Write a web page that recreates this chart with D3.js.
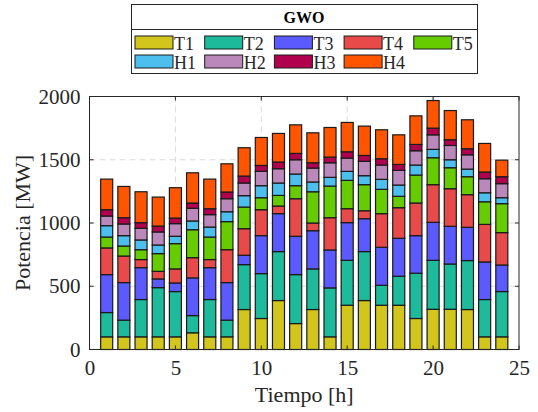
<!DOCTYPE html>
<html>
<head>
<meta charset="utf-8">
<script src="https://cdn.jsdelivr.net/npm/d3@7"></script>
<style>
    body { margin:0; background:#fff; }
    svg { display:block; font-family:'Liberation Serif','Times New Roman',serif; }
</style>
</head>
<body>
<svg id="chart" width="538" height="412"></svg>
<script>
(function() {
    'use strict';

    // hours 1..24
    var hours = d3.range(1, 25);

    var series = ['T1','T2','T3','T4','T5','H1','H2','H3','H4'];
    var colors = ['#d2c61c','#1dbb9b','#5a5aff','#e84a4a','#66cc00','#4dbfee','#bb88bb','#b0004e','#ff5500'];

    var T1 = [100,100,100,100,100,132,100,100,316,245,387,205,316,100,350,387,350,350,245,318,318,316,100,100];
    var T2 = [192,132,295,389,358,136,295,132,355,355,387,387,321,387,355,387,158,229,358,387,358,387,295,358];
    var T3 = [300,297,252,69,68,298,252,297,74,300,300,303,302,300,298,260,300,300,297,300,298,263,297,210];
    var T4 = [211,210,64,60,111,160,64,260,210,205,60,297,61,255,110,63,266,242,258,298,297,258,297,256];
    var T5 = [86,79,78,140,200,221,178,222,171,95,84,103,247,250,224,206,192,90,221,213,166,142,179,229];
    var H1 = [90,82,77,68,58,69,79,78,90,95,98,92,77,69,71,71,79,89,79,66,63,60,71,47];
    var H2 = [76,92,92,103,100,100,98,103,100,113,113,113,110,115,105,113,113,116,113,115,113,113,111,111];
    var H3 = [50,50,45,47,44,42,47,53,55,47,53,50,42,45,50,47,50,47,50,53,45,48,53,55];
    var H4 = [242,247,244,229,240,239,234,223,224,221,226,226,237,234,232,232,229,234,226,218,231,229,226,131];

    var yTicks = [0,500,1000,1500,2000];
    var xTicks = [0,5,10,15,20,25];

    var values = [T1,T2,T3,T4,T5,H1,H2,H3,H4];

    var rows = hours.map(function(h, i) {
        var r = { hour:h };
        series.forEach(function(s, k) { r[s] = values[k][i]; });
        return r;
    });

    var stacked = d3.stack().keys(series)(rows);

    var svg = d3.select('#chart');

    var L = 89.5, R = 519, T = 96.5, B = 349.5;

    var x = d3.scaleLinear().domain([0, 25]).range([L, R]);
    var y = d3.scaleLinear().domain([0, 2000]).range([B, T]);
    var bw = 0.7 * (x(1) - x(0));

    /**************************************************************
        grid
     **************************************************************/
    var grid = svg.append('g').attr('class','grid');

    grid.selectAll('.gy')
        .data(yTicks.slice(1, -1)).enter()
            .append('line')
                .attr('x1', L).attr('x2', R)
                .attr('y1', function(d){ return y(d); })
                .attr('y2', function(d){ return y(d); })
                .style('stroke','#dcdcdc')
                .style('stroke-dasharray','6,4')
                .style('stroke-width', 1);

    grid.selectAll('.gx')
        .data(xTicks.slice(1, -1)).enter()
            .append('line')
                .attr('y1', T).attr('y2', B)
                .attr('x1', function(d){ return x(d); })
                .attr('x2', function(d){ return x(d); })
                .style('stroke','#dcdcdc')
                .style('stroke-dasharray','6,4')
                .style('stroke-width', 1);

    /**************************************************************
        bars
     **************************************************************/
    svg.selectAll('.layer')
        .data(stacked).enter()
            .append('g')
                .attr('class','layer')
                .style('fill', function(d, i){ return colors[i]; })
            .selectAll('rect')
                .data(function(d){ return d; }).enter()
                    .append('rect')
                        .attr('x', function(d){ return x(d.data.hour) - bw/2; })
                        .attr('width', bw)
                        .attr('y', function(d){ return y(d[1]); })
                        .attr('height', function(d){ return y(d[0]) - y(d[1]); })
                        .style('stroke','#1a1a1a')
                        .style('stroke-width', 1.2);

    /**************************************************************
        axes box
     **************************************************************/
    var axis = svg.append('g').attr('class','axis');

    axis.append('rect')
        .attr('x', L).attr('y', T)
        .attr('width', R - L).attr('height', B - T)
        .style('fill','none')
        .style('stroke','#262626')
        .style('stroke-width', 1);

    var yAxis = d3.axisLeft(y).tickValues(yTicks).tickFormat(d3.format('d')).tickSize(0).tickPadding(9);
    var xAxis = d3.axisBottom(x).tickValues(xTicks).tickFormat(d3.format('d')).tickSize(0).tickPadding(11);

    axis.append('g')
        .attr('transform','translate('+ L +',0)')
        .call(yAxis)
        .call(function(g){ g.select('.domain').remove(); });

    axis.append('g')
        .attr('transform','translate(0,'+ B +')')
        .call(xAxis)
        .call(function(g){ g.select('.domain').remove(); });

    axis.selectAll('.tick text')
        .style('font-family',"'Liberation Serif','Times New Roman',serif")
        .style('font-size','21px')
        .style('fill','#262626');

    // inward tick marks, bottom/top and left/right
    yTicks.forEach(function(v) {
        axis.append('line').attr('x1', L).attr('x2', L + 4)
            .attr('y1', y(v)).attr('y2', y(v)).style('stroke','#262626');
        axis.append('line').attr('x1', R).attr('x2', R - 4)
            .attr('y1', y(v)).attr('y2', y(v)).style('stroke','#262626');
    });
    xTicks.forEach(function(v) {
        axis.append('line').attr('y1', B).attr('y2', B - 4)
            .attr('x1', x(v)).attr('x2', x(v)).style('stroke','#262626');
        axis.append('line').attr('y1', T).attr('y2', T + 4)
            .attr('x1', x(v)).attr('x2', x(v)).style('stroke','#262626');
    });

    svg.append('text')
        .attr('transform','translate(30,'+ (T + B)/2 +') rotate(-90)')
        .attr('text-anchor','middle')
        .style('font-size','22px')
        .style('fill','#262626')
        .text('Potencia [MW]');

    svg.append('text')
        .attr('x', (L + R)/2)
        .attr('y', 402)
        .attr('text-anchor','middle')
        .style('font-size','22px')
        .style('fill','#262626')
        .text('Tiempo [h]');

    /**************************************************************
        legend
     **************************************************************/
    var lg = svg.append('g').attr('class','legend');
    var lx0 = 131, lx1 = 477, ly0 = 4.5, ly1 = 73.5, lsep = 29.5;

    lg.append('rect')
        .attr('x', lx0 + 0.5).attr('y', ly0)
        .attr('width', lx1 - lx0).attr('height', ly1 - ly0)
        .style('fill','#fff')
        .style('stroke','#262626')
        .style('stroke-width', 1);

    lg.append('line')
        .attr('x1', lx0).attr('x2', lx1)
        .attr('y1', lsep).attr('y2', lsep)
        .style('stroke','#262626');

    lg.append('text')
        .attr('x', (lx0 + lx1)/2)
        .attr('y', 23)
        .attr('text-anchor','middle')
        .style('font-weight','bold')
        .style('font-size','16px')
        .text('GWO');

    var item = lg.selectAll('.item')
        .data(series).enter()
            .append('g')
                .attr('class','item')
                .attr('transform', function(d, i) {
                    return 'translate('+ [135 + (i % 5)*69.7, i < 5 ? 36 : 55] +')';
                });

    item.append('rect')
        .attr('width', 38)
        .attr('height', 13)
        .style('fill', function(d, i){ return colors[i]; })
        .style('stroke','#1a1a1a')
        .style('stroke-width', 1);

    item.append('text')
        .attr('x', 39)
        .attr('y', 13.5)
        .style('font-size','18px')
        .style('fill','#262626')
        .text(function(d){ return d; });
})();
</script>
</body>
</html>
